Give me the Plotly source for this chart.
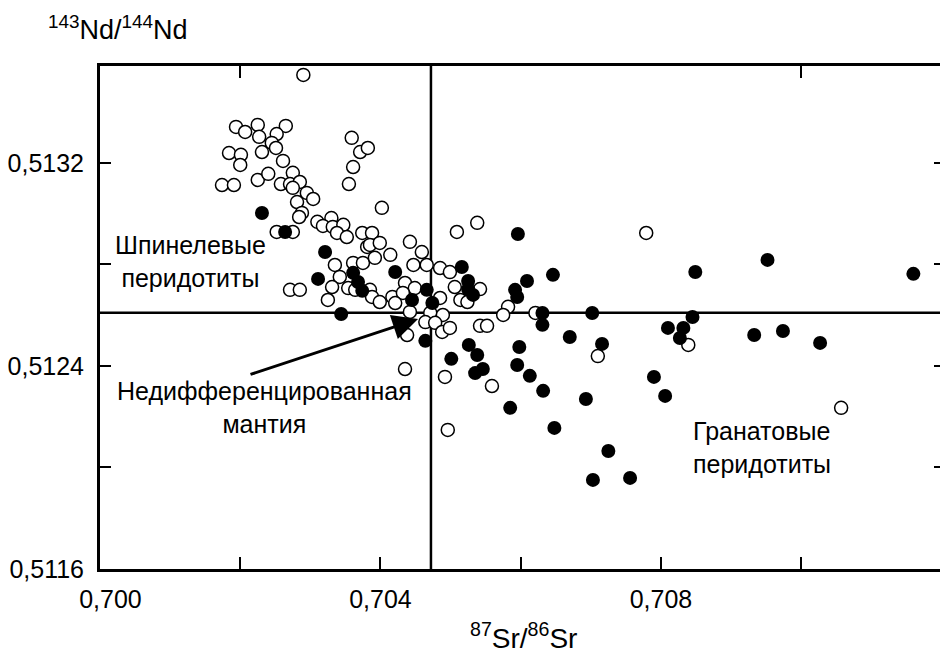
import plotly.graph_objects as go

# ---- data: open circles ----
open_sr = [
    0.70290, 0.70194, 0.70207, 0.70225, 0.70265, 0.70227, 0.70252, 0.70245, 0.70251, 0.70184,
    0.70201, 0.70200, 0.70231, 0.70261, 0.70359, 0.70371, 0.70382, 0.70361, 0.70355, 0.70174,
    0.70191, 0.70225, 0.70240, 0.70258, 0.70275, 0.70271, 0.70285, 0.70275, 0.70295, 0.70304,
    0.70281, 0.70288, 0.70284, 0.70310, 0.70330, 0.70318, 0.70332, 0.70347, 0.70338, 0.70352,
    0.70374, 0.70381, 0.70252, 0.70275, 0.70271, 0.70285, 0.70335, 0.70361, 0.70375, 0.70342,
    0.70354, 0.70325, 0.70402, 0.70388, 0.70385, 0.70399, 0.70392, 0.70414, 0.70331, 0.70364,
    0.70385, 0.70388, 0.70399, 0.70417, 0.70435, 0.70449, 0.70432, 0.70442, 0.70459, 0.70447,
    0.70466, 0.70485, 0.70499, 0.70506, 0.70542, 0.70485, 0.70514, 0.70524, 0.70421, 0.70442,
    0.70471, 0.70489, 0.70464, 0.70478, 0.70488, 0.70499, 0.70438, 0.70542, 0.70552, 0.70582,
    0.70575, 0.70621, 0.70710, 0.70492, 0.70559, 0.70496, 0.70779, 0.70839, 0.71057, 0.70435,
    0.70509, 0.70538,
]
open_nd = [
    0.513547, 0.513342, 0.513322, 0.513350, 0.513346, 0.513303, 0.513314, 0.513279, 0.513259, 0.513239,
    0.513232, 0.513192, 0.513243, 0.513208, 0.513299, 0.513243, 0.513259, 0.513184, 0.513117, 0.513113,
    0.513113, 0.513133, 0.513157, 0.513117, 0.513161, 0.513117, 0.513125, 0.513102, 0.513082, 0.513058,
    0.513046, 0.513003, 0.512987, 0.512968, 0.512983, 0.512952, 0.512948, 0.512956, 0.512924, 0.512908,
    0.512924, 0.512869, 0.512928, 0.512928, 0.512700, 0.512700, 0.512798, 0.512806, 0.512806, 0.512751,
    0.512707, 0.512660, 0.513023, 0.512924, 0.512877, 0.512885, 0.512826, 0.512838, 0.512711, 0.512700,
    0.512700, 0.512672, 0.512652, 0.512672, 0.512727, 0.512707, 0.512688, 0.512889, 0.512849, 0.512798,
    0.512798, 0.512786, 0.512770, 0.512711, 0.512703, 0.512668, 0.512660, 0.512652, 0.512648, 0.512613,
    0.512609, 0.512601, 0.512573, 0.512570, 0.512534, 0.512550, 0.512522, 0.512558, 0.512558, 0.512633,
    0.512601, 0.512609, 0.512439, 0.512357, 0.512321, 0.512148, 0.512924, 0.512483, 0.512235, 0.512388,
    0.512928, 0.512964,
]

# ---- data: filled circles ----
filled_sr = [
    0.70231, 0.70264, 0.70321, 0.70311, 0.70344, 0.70361, 0.70368, 0.70374, 0.70421, 0.70445,
    0.70466, 0.70474, 0.70464, 0.70516, 0.70525, 0.70525, 0.70532, 0.70596, 0.70609, 0.70646,
    0.70592, 0.70595, 0.70631, 0.70631, 0.70702, 0.70670, 0.70716, 0.70526, 0.70538, 0.70598,
    0.70501, 0.70535, 0.70546, 0.70595, 0.70613, 0.70632, 0.70693, 0.70585, 0.70648,
    0.70725, 0.70703, 0.70756, 0.70849, 0.70952, 0.71160, 0.70845, 0.70810, 0.70832, 0.70827, 0.70933,
    0.70974, 0.71027, 0.70790, 0.70806,
]
filled_nd = [
    0.513003, 0.512928, 0.512849, 0.512743, 0.512605, 0.512767, 0.512731, 0.512696, 0.512770, 0.512660,
    0.512700, 0.512648, 0.512499, 0.512790, 0.512735, 0.512703, 0.512680, 0.512920, 0.512735, 0.512759,
    0.512700, 0.512672, 0.512609, 0.512562, 0.512609, 0.512514, 0.512487, 0.512483, 0.512443, 0.512475,
    0.512428, 0.512372, 0.512388, 0.512404, 0.512361, 0.512302, 0.512270, 0.512235, 0.512156,
    0.512065, 0.511951, 0.511959, 0.512770, 0.512818, 0.512763, 0.512593, 0.512550, 0.512550, 0.512510, 0.512522,
    0.512538, 0.512491, 0.512357, 0.512282,
]

# ---- reference (undifferentiated mantle) ----
bulk_sr = 0.70472
bulk_nd = 0.51261

# ---- axes ----
x_range = [0.700, 0.71198]
y_range = [0.5116, 0.513582]
x_major = [0.700, 0.704, 0.708]
x_major_text = ["\u00a0\u00a0\u00a00,700", "0,704", "0,708"]
x_minor_step = 0.002
x_top_ticks = [0.702, 0.710]
y_major = [0.5116, 0.5124, 0.5132]
y_major_text = ["0,5116", "0,5124", "0,5132"]
y_minor_step = 0.0004
y_right_ticks = [0.5120, 0.5124, 0.5128, 0.5132]

FONT = "Liberation Sans, Arial, sans-serif"

fig = go.Figure()
fig.add_trace(go.Scatter(
    x=open_sr, y=open_nd, mode="markers",
    marker=dict(symbol="circle", size=13, color="white",
                line=dict(color="black", width=1.5)),
    hoverinfo="skip", showlegend=False))
fig.add_trace(go.Scatter(
    x=filled_sr, y=filled_nd, mode="markers",
    marker=dict(symbol="circle", size=14, color="black",
                line=dict(color="black", width=0)),
    hoverinfo="skip", showlegend=False))
# invisible trace to activate mirror axes
fig.add_trace(go.Scatter(x=[None], y=[None], xaxis="x2", yaxis="y2",
                         hoverinfo="skip", showlegend=False))

# reference lines
fig.add_shape(type="line", xref="x", yref="paper", x0=bulk_sr, x1=bulk_sr, y0=0, y1=1,
              line=dict(color="black", width=2.5), layer="below")
fig.add_shape(type="line", xref="paper", yref="y", x0=0, x1=1, y0=bulk_nd, y1=bulk_nd,
              line=dict(color="black", width=2.5), layer="below")

# text labels
fig.add_annotation(x=0.701284, y=0.512810, xref="x", yref="y",
                   text="Шпинелевые<br>перидотиты", showarrow=False,
                   font=dict(size=25, family=FONT, color="black"), align="center")
fig.add_annotation(x=0.702339, y=0.512238, xref="x", yref="y",
                   text="Недифференцированная<br>мантия", showarrow=False,
                   font=dict(size=25, family=FONT, color="black"), align="center")
fig.add_annotation(x=0.709443, y=0.512077, xref="x", yref="y",
                   text="Гранатовые<br>перидотиты", showarrow=False,
                   font=dict(size=25, family=FONT, color="black"), align="left")
# arrow
fig.add_annotation(x=0.704536, y=0.512585, ax=0.702125, ay=0.512365,
                   xref="x", yref="y", axref="x", ayref="y", text="",
                   showarrow=True, arrowhead=2, arrowsize=1.7, arrowwidth=3,
                   arrowcolor="black")
# axis titles
fig.add_annotation(x=0.0214, y=1.0755, xref="paper", yref="paper",
                   text="<sup>143</sup>Nd/<sup>144</sup>Nd", showarrow=False,
                   font=dict(size=27, family=FONT, color="black"),
                   xanchor="center", yanchor="middle")
fig.add_annotation(x=0.5036, y=-0.133, xref="paper", yref="paper",
                   text="<sup>87</sup>Sr/<sup>86</sup>Sr", showarrow=False,
                   font=dict(size=28, family=FONT, color="black"),
                   xanchor="center", yanchor="middle")

fig.update_layout(
    width=940, height=655,
    margin=dict(l=100, r=0, t=66, b=86),
    paper_bgcolor="white", plot_bgcolor="white",
    showlegend=False,
    font=dict(family=FONT, size=25, color="black"),
    xaxis=dict(range=x_range, tickmode="array", tickvals=x_major, ticktext=x_major_text,
               ticks="inside", ticklen=12, tickwidth=2, tickcolor="black",
               minor=dict(tick0=0.700, dtick=x_minor_step, ticks="inside",
                          ticklen=12, tickwidth=2, tickcolor="black", showgrid=False),
               showline=True, linewidth=3, linecolor="black",
               showgrid=False, zeroline=False, ticklabelstandoff=6,
               tickfont=dict(size=25, family=FONT, color="black")),
    yaxis=dict(range=y_range, tickmode="array", tickvals=y_major, ticktext=y_major_text,
               ticks="inside", ticklen=11, tickwidth=2, tickcolor="black",
               minor=dict(tick0=0.5116, dtick=y_minor_step, ticks="inside",
                          ticklen=11, tickwidth=2, tickcolor="black", showgrid=False),
               showline=True, linewidth=3, linecolor="black",
               showgrid=False, zeroline=False, ticklabelstandoff=8,
               tickfont=dict(size=25, family=FONT, color="black")),
    xaxis2=dict(range=x_range, overlaying="x", side="top", tickvals=x_top_ticks,
                ticks="inside", ticklen=12, tickwidth=2, tickcolor="black",
                showticklabels=False, showline=True, linewidth=2.5, linecolor="black",
                showgrid=False, zeroline=False),
    yaxis2=dict(range=y_range, overlaying="y", side="right", tickvals=y_right_ticks,
                ticks="inside", ticklen=6, tickwidth=2, tickcolor="black",
                showticklabels=False, showline=False,
                showgrid=False, zeroline=False),
)

fig.write_html("out.html")
